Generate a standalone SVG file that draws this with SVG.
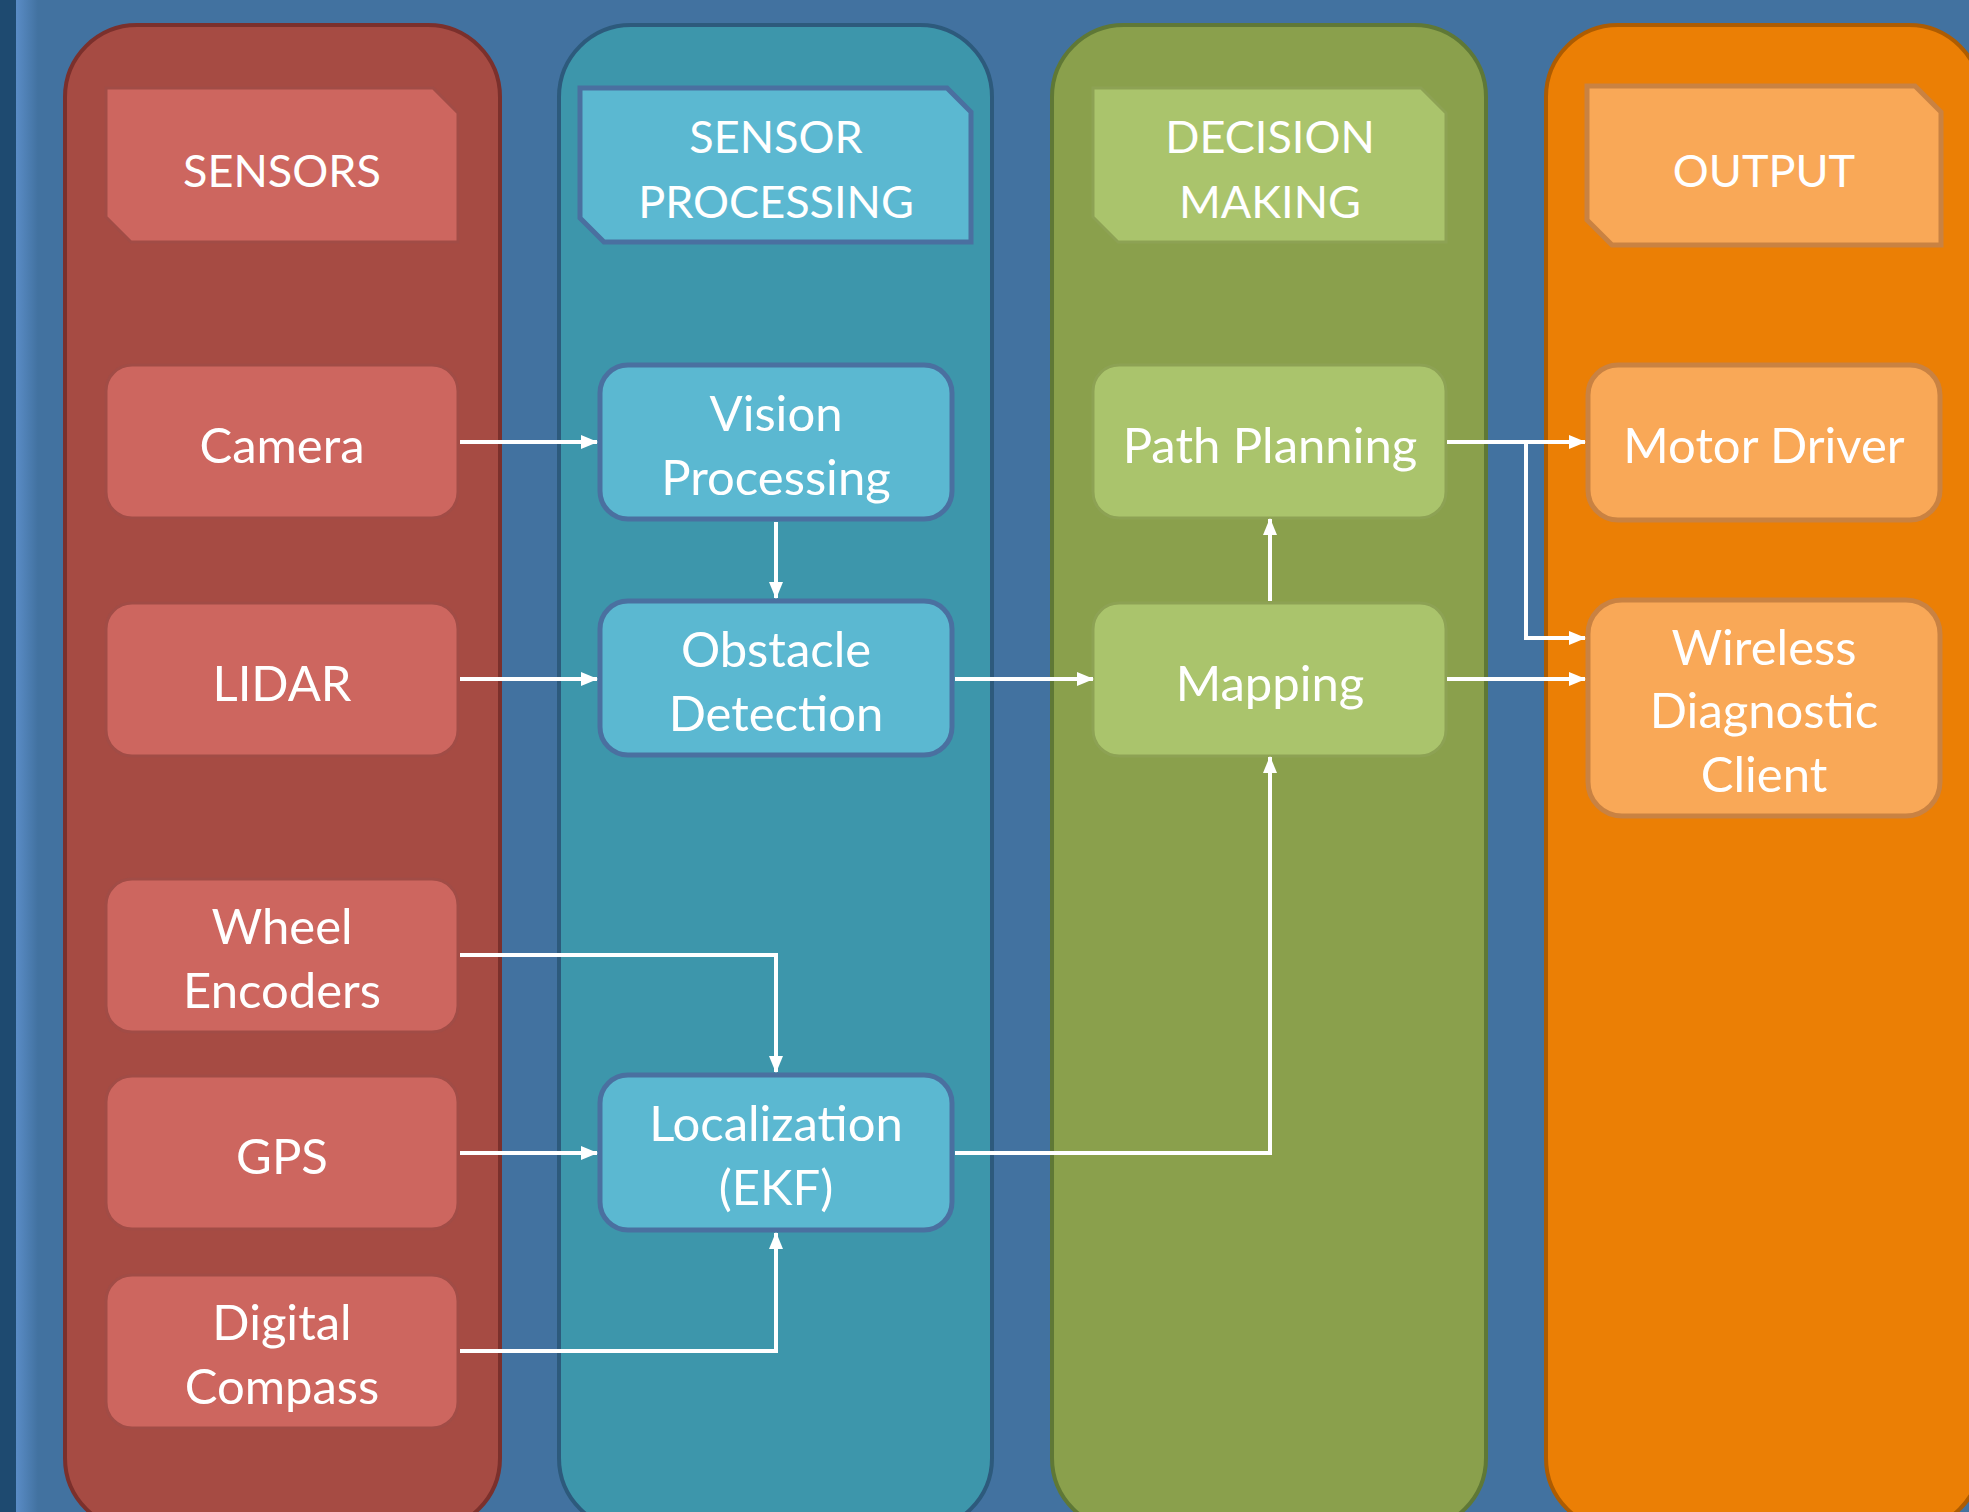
<svg xmlns="http://www.w3.org/2000/svg" width="1969" height="1512" viewBox="0 0 1969 1512">
<defs>
<linearGradient id="edge" x1="0" y1="0" x2="1" y2="0">
<stop offset="0" stop-color="#5a8cc6"/>
<stop offset="1" stop-color="#4272a0"/>
</linearGradient>
<marker id="ah" markerUnits="userSpaceOnUse" markerWidth="17" markerHeight="14" refX="16" refY="7" orient="auto">
<path d="M0,0 L17,7 L0,14 Z" fill="#ffffff"/>
</marker>
<style>
text{font-family:Lato,"Open Sans","Liberation Sans",sans-serif;font-size:49px;fill:#ffffff;text-anchor:middle}
text.h{font-size:45px}
.lane1{fill:#a64b43;stroke:#7b302c;stroke-width:4}
.lane2{fill:#3d96ab;stroke:#2d5a7c;stroke-width:4}
.lane3{fill:#8aa04c;stroke:#5f7836;stroke-width:4}
.lane4{fill:#eb7f05;stroke:#ad5c02;stroke-width:4}
.n1{fill:#cd665f;stroke:#a14c46;stroke-width:3}
.n2{fill:#5bb8d1;stroke:#4a70a0;stroke-width:5}
.n3{fill:#aac46c;stroke:#8da254;stroke-width:3}
.n4{fill:#f9a857;stroke:#c98242;stroke-width:5}
.c{fill:none;stroke:#ffffff;stroke-width:4;marker-end:url(#ah)}
</style>
</defs>
<rect x="0" y="0" width="1969" height="1512" fill="#4272a0"/>
<rect x="16" y="0" width="22" height="1512" fill="url(#edge)"/>
<rect x="0" y="0" width="16" height="1512" fill="#1e4a70"/>

<g id="lane-sensors"><rect class="lane1" x="65" y="25" width="435" height="1505" rx="72"/></g>
<g id="lane-processing"><rect class="lane2" x="559" y="25" width="433" height="1505" rx="72"/></g>
<g id="lane-decision"><rect class="lane3" x="1052" y="25" width="434" height="1505" rx="72"/></g>
<g id="lane-output"><rect class="lane4" x="1546" y="25" width="435" height="1505" rx="72"/></g>

<g id="hdr-sensors"><path class="n1" d="M106,88 H433 L458,113 V242 H131 L106,217 Z"/><text class="h" x="282" y="187">SENSORS</text></g>
<g id="hdr-processing"><path class="n2" d="M580,88 H947 L971,112 V242 H604 L580,218 Z"/><text class="h" x="776" y="153">SENSOR</text><text class="h" x="776" y="218">PROCESSING</text></g>
<g id="hdr-decision"><path class="n3" d="M1093,88 H1421 L1446,113 V242 H1118 L1093,217 Z"/><text class="h" x="1270" y="153">DECISION</text><text class="h" x="1270" y="218">MAKING</text></g>
<g id="hdr-output"><path class="n4" d="M1587,86 H1915 L1941,112 V245 H1612 L1587,220 Z"/><text class="h" x="1764" y="187">OUTPUT</text></g>

<g id="camera"><rect class="n1" x="106" y="365" width="352" height="153" rx="26"/><text x="282" y="463">Camera</text></g>
<g id="lidar"><rect class="n1" x="106" y="603" width="352" height="153" rx="26"/><text x="282" y="701">LIDAR</text></g>
<g id="wheel-encoders"><rect class="n1" x="106" y="879" width="352" height="153" rx="26"/><text x="282" y="944">Wheel</text><text x="282" y="1008">Encoders</text></g>
<g id="gps"><rect class="n1" x="106" y="1076" width="352" height="153" rx="26"/><text x="282" y="1174">GPS</text></g>
<g id="digital-compass"><rect class="n1" x="106" y="1275" width="352" height="153" rx="26"/><text x="282" y="1340">Digital</text><text x="282" y="1404">Compass</text></g>

<g id="vision-processing"><rect class="n2" x="600" y="365" width="352" height="154" rx="28"/><text x="776" y="431">Vision</text><text x="776" y="495">Processing</text></g>
<g id="obstacle-detection"><rect class="n2" x="600" y="601" width="352" height="154" rx="28"/><text x="776" y="667">Obstacle</text><text x="776" y="731">Detection</text></g>
<g id="localization"><rect class="n2" x="600" y="1075" width="352" height="155" rx="28"/><text x="776" y="1141">Localization</text><text x="776" y="1205">(EKF)</text></g>

<g id="path-planning"><rect class="n3" x="1093" y="365" width="353" height="153" rx="26"/><text x="1270" y="463">Path Planning</text></g>
<g id="mapping"><rect class="n3" x="1093" y="603" width="353" height="153" rx="26"/><text x="1270" y="701">Mapping</text></g>

<g id="motor-driver"><rect class="n4" x="1588" y="365" width="352" height="155" rx="30"/><text x="1764" y="463">Motor Driver</text></g>
<g id="wireless-client"><rect class="n4" x="1588" y="600" width="352" height="216" rx="34"/><text x="1764" y="665">Wireless</text><text x="1764" y="728">Diagnostic</text><text x="1764" y="792">Client</text></g>

<g id="connectors">
<path class="c" d="M460,442 H597"/>
<path class="c" d="M460,679 H597"/>
<path class="c" d="M776,522 V598"/>
<path class="c" d="M955,679 H1093"/>
<path class="c" d="M1270,601 V519"/>
<path class="c" d="M1447,442 H1585"/>
<path class="c" d="M1447,442 H1526 V638 H1585"/>
<path class="c" d="M1447,679 H1585"/>
<path class="c" d="M460,955 H776 V1072"/>
<path class="c" d="M460,1153 H597"/>
<path class="c" d="M955,1153 H1270 V757"/>
<path class="c" d="M460,1351 H776 V1233"/>
</g>
</svg>
